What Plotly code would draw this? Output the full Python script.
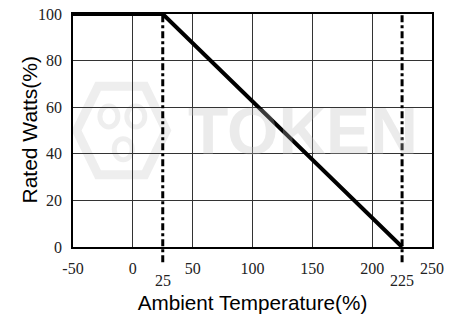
import plotly.graph_objects as go

temp = [-50, 25, 225]
watts = [100, 100, 0]
marker_temps = [25, 225]
x_ticks = [-50, 0, 50, 100, 150, 200, 250]
y_ticks = [0, 20, 40, 60, 80, 100]

fig = go.Figure()

fig.add_trace(go.Scatter(x=temp, y=watts, mode="lines",
                         line=dict(color="black", width=4), showlegend=False,
                         hoverinfo="skip"))

for t in marker_temps:
    fig.add_shape(type="line", xref="x", yref="paper", x0=t, x1=t, y0=-0.065, y1=1,
                  line=dict(color="black", width=3, dash="7px,3px,3px,3px"), layer="above")
    fig.add_annotation(x=t, xref="x", y=0, yref="paper", yshift=-23, text=str(t),
                       showarrow=False, yanchor="top",
                       font=dict(family="Liberation Serif", size=16, color="#222"))

# watermark
fig.add_annotation(x=0.64, y=0.5, xref="paper", yref="paper", text="<b>TOKEN</b>",
                   showarrow=False, font=dict(family="Liberation Sans", size=66,
                                              color="rgba(190,190,190,0.3)"))
fig.add_shape(type="path", xref="paper", yref="paper",
              path="M 0.01,0.5 L 0.07,0.69 L 0.2,0.69 L 0.26,0.5 L 0.2,0.31 L 0.07,0.31 Z",
              line=dict(color="rgba(200,200,200,0.3)", width=9), layer="below")
for cx, cy in [(0.1, 0.56), (0.175, 0.56), (0.14, 0.42)]:
    fig.add_shape(type="circle", xref="paper", yref="paper",
                  x0=cx - 0.025, x1=cx + 0.025, y0=cy - 0.045, y1=cy + 0.045,
                  line=dict(color="rgba(200,200,200,0.3)", width=5), layer="below")

# y-axis title
fig.add_annotation(x=0, xref="paper", y=0.5, yref="paper", xshift=-44, text="Rated Watts(%)",
                   textangle=-90, showarrow=False, xanchor="center", yanchor="middle",
                   font=dict(family="Liberation Sans", size=21, color="black"))

axis_common = dict(showgrid=True, gridcolor="#333", gridwidth=1, showline=True,
                   linecolor="black", linewidth=1.5, mirror=True, zeroline=False,
                   ticks="", automargin=False,
                   tickfont=dict(family="Liberation Serif", size=16, color="#222"))

fig.update_xaxes(range=[-50, 250], tickvals=x_ticks, ticktext=[str(v) for v in x_ticks],
                 ticklabelstandoff=6,
                 title=dict(text="Ambient Temperature(%)", standoff=20,
                            font=dict(family="Liberation Sans", size=20.7, color="black")),
                 **axis_common)
fig.update_yaxes(range=[0, 100], tickvals=y_ticks, ticktext=[str(v) for v in y_ticks],
                 ticklabelstandoff=6, **axis_common)

fig.update_layout(width=463, height=320, margin=dict(l=73, r=31, t=14, b=73),
                  plot_bgcolor="white", paper_bgcolor="white")

fig.write_html("out.html", config={"displayModeBar": False},
               post_script="document.body.style.margin='0';")
